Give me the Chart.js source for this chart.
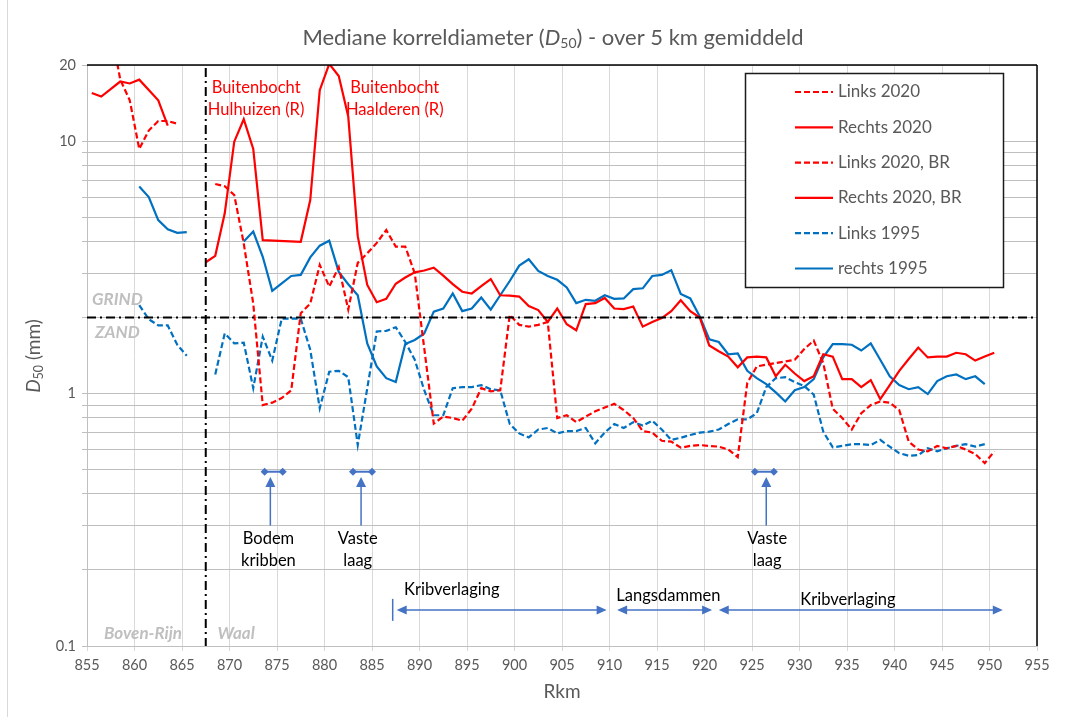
<!DOCTYPE html>
<html>
<head>
<meta charset="utf-8">
<script src="https://cdn.jsdelivr.net/npm/chart.js@4.4.0/dist/chart.umd.min.js"></script>
<style>
  html, body { margin: 0; padding: 0; background: #fff; }
</style>
</head>
<body>
<canvas id="chart" width="1088" height="717"></canvas>
<script>
// Rivierkilometers (Boven-Rijn en Waal)
const kmBovenRijn = [855.5, 856.5, 857.5, 858.5, 859.5, 860.5, 861.5, 862.5, 863.5, 864.5, 865.5];
const kmWaal = [
  867.5, 868.5, 869.5, 870.5, 871.5, 872.5, 873.5, 874.5, 875.5, 876.5,
  877.5, 878.5, 879.5, 880.5, 881.5, 882.5, 883.5, 884.5, 885.5, 886.5,
  887.5, 888.5, 889.5, 890.5, 891.5, 892.5, 893.5, 894.5, 895.5, 896.5,
  897.5, 898.5, 899.5, 900.5, 901.5, 902.5, 903.5, 904.5, 905.5, 906.5,
  907.5, 908.5, 909.5, 910.5, 911.5, 912.5, 913.5, 914.5, 915.5, 916.5,
  917.5, 918.5, 919.5, 920.5, 921.5, 922.5, 923.5, 924.5, 925.5, 926.5,
  927.5, 928.5, 929.5, 930.5, 931.5, 932.5, 933.5, 934.5, 935.5, 936.5,
  937.5, 938.5, 939.5, 940.5, 941.5, 942.5, 943.5, 944.5, 945.5, 946.5,
  947.5, 948.5, 949.5, 950.5
];

// D50 (mm), Boven-Rijn
const links2020BR   = [null, null, 28, 17.5, 14.5, 9.3, 11.0, 12.0, 12.0, 11.7, null];
const rechts2020BR  = [15.5, 15.0, null, 17.2, 16.9, 17.5, null, 14.5, 11.5, null, null];
const links1995BR   = [null, null, null, null, null, 2.24, 1.97, 1.86, 1.86, 1.56, 1.41];
const rechts1995BR  = [null, null, null, null, null, 6.6, 6.0, 4.86, 4.47, 4.33, 4.36];

// D50 (mm), Waal
const links2020 = [
  null, 6.76, 6.62, 6.11, 3.93, 2.27, 0.90, 0.92, 0.96, 1.03,
  2.08, 2.27, 3.23, 2.65, 3.17, 2.15, 3.29, 3.59, 3.95, 4.44,
  3.82, 3.82, 2.99, 1.51, 0.76, 0.81, 0.80, 0.78, 0.87, 1.05,
  1.02, 1.03, 2.05, 1.87, 1.84, 1.87, 1.92, 0.80, 0.82, 0.77,
  0.81, 0.85, 0.88, 0.91, 0.86, 0.80, 0.71, 0.70, 0.65, 0.645,
  0.61, 0.62, 0.625, 0.62, 0.616, 0.60, 0.56, 1.10, 1.28, 1.30,
  1.32, 1.34, 1.36, 1.50, 1.62, 1.32, 0.87, 0.80, 0.72, 0.835,
  0.90, 0.93, 0.92, 0.86, 0.644, 0.60, 0.59, 0.62, 0.607, 0.62,
  0.60, 0.576, 0.53, 0.59
];
const rechts2020 = [
  3.31, 3.51, 5.17, 9.94, 12.2, 9.3, 4.05, null, null, null,
  3.99, 5.84, 15.9, 20.2, 18.1, 12.5, 4.2, 2.69, 2.30, 2.37,
  2.72, 2.88, 3.02, 3.07, 3.15, 2.93, 2.71, 2.53, 2.49, 2.66,
  2.84, 2.45, 2.44, 2.42, 2.22, 2.14, 1.92, 2.17, 1.88, 1.78,
  2.26, 2.28, 2.39, 2.17, 2.16, 2.21, 1.84, 1.92, 1.99, 2.12,
  2.34, 2.12, 2.00, 1.55, 1.47, 1.40, 1.27, 1.39, 1.40, 1.39,
  1.17, 1.30, 1.20, 1.12, 1.17, 1.43, 1.40, 1.14, 1.14, 1.06,
  1.13, 0.95, 1.08, 1.23, 1.37, 1.52, 1.39, 1.40, 1.40, 1.45,
  1.43, 1.35, 1.40, 1.45
];
const links1995 = [
  null, 1.19, 1.73, 1.58, 1.59, 1.05, 1.68, 1.35, 1.98, 1.98,
  1.98, 1.49, 0.874, 1.22, 1.23, 1.16, 0.625, null, 1.76, 1.77,
  1.83, 1.60, 1.36, 1.03, 0.82, 0.82, 1.05, 1.06, 1.06, 1.08,
  1.04, 1.03, 0.757, 0.695, 0.67, 0.72, 0.73, 0.695, 0.71, 0.71,
  0.73, 0.635, 0.70, 0.757, 0.73, 0.77, 0.746, 0.78, 0.72, 0.655,
  0.668, 0.685, 0.70, 0.706, 0.72, 0.757, 0.79, 0.79, 0.835, 1.06,
  1.15, 1.16, 1.11, 1.07, 0.99, 0.706, 0.612, 0.62, 0.63, 0.63,
  0.625, 0.655, 0.616, 0.58, 0.567, 0.57, 0.607, 0.59, 0.607, 0.62,
  0.63, 0.616, 0.63, null
];
const rechts1995 = [
  null, null, null, null, 4.0, 4.38, 3.48, 2.55, 2.73, 2.92,
  2.95, 3.46, 3.85, 4.03, 3.03, 2.71, 2.45, 1.58, 1.28, 1.15,
  1.11, 1.57, 1.63, 1.73, 2.11, 2.17, 2.49, 2.12, 2.17, 2.40,
  2.15, 2.45, 2.79, 3.21, 3.40, 3.06, 2.92, 2.82, 2.63, 2.28,
  2.35, 2.33, 2.45, 2.37, 2.38, 2.59, 2.61, 2.92, 2.95, 3.08,
  2.48, 2.38, 2.02, 1.64, 1.60, 1.43, 1.44, 1.23, 1.15, 1.09,
  1.01, 0.93, 1.03, 1.06, 1.14, 1.39, 1.57, 1.57, 1.56, 1.48,
  1.58, 1.36, 1.17, 1.08, 1.04, 1.06, 0.995, 1.12, 1.17, 1.19,
  1.14, 1.17, 1.09, null
];

// As-ticks
const yTicks = [0.1, 0.2, 0.3, 0.4, 0.5, 0.6, 0.7, 0.8, 0.9, 1, 2, 3, 4, 5, 6, 7, 8, 9, 10, 20];
const yLabels = [0.1, 1, 10, 20];

// Grenzen
const grensGrindZand = 2;        // mm
const grensBovenRijnWaal = 867.5; // km

const font = 'Lato, "Liberation Sans", sans-serif';
const grijs = '#595959';
const rood = '#ff0000';
const blauw = '#0070c0';
const pijlKleur = '#4472c4';

function punten(km, waarden) {
  return km.map((x, i) => ({ x: x, y: waarden[i] })).filter(p => p.y !== null);
}
const breuk = { x: 866.5, y: null };

const datasets = [
  { label: 'Links 2020', data: punten(kmWaal, links2020), borderColor: rood, borderDash: [6, 3] },
  { label: 'Rechts 2020', data: punten(kmWaal, rechts2020), borderColor: rood, borderDash: [] },
  { label: 'Links 2020, BR', data: punten(kmBovenRijn, links2020BR), borderColor: rood, borderDash: [6, 3] },
  { label: 'Rechts 2020, BR', data: punten(kmBovenRijn, rechts2020BR), borderColor: rood, borderDash: [] },
  { label: 'Links 1995', data: [...punten(kmBovenRijn, links1995BR), breuk, ...punten(kmWaal, links1995)], borderColor: blauw, borderDash: [6, 3] },
  { label: 'rechts 1995', data: [...punten(kmBovenRijn, rechts1995BR), breuk, ...punten(kmWaal, rechts1995)], borderColor: blauw, borderDash: [] }
].map(d => Object.assign(d, { borderWidth: 2.2, pointRadius: 0, fill: false, tension: 0, spanGaps: false }));

// Annotaties in km / mm
const annotaties = {
  rood: [
    { regels: ['Buitenbocht', 'Hulhuizen (R)'], km: 872.8, d50: [16.2, 13.3] },
    { regels: ['Buitenbocht', 'Haalderen (R)'], km: 887.4, d50: [16.2, 13.3] }
  ],
  ingrepen: [
    { regels: ['Bodem', 'kribben'], van: 873.7, tot: 875.6, pijl: 874.3, tekstKm: 874.1 },
    { regels: ['Vaste', 'laag'], van: 883.0, tot: 885.0, pijl: 883.85, tekstKm: 883.5 },
    { regels: ['Vaste', 'laag'], van: 925.3, tot: 927.3, pijl: 926.5, tekstKm: 926.6 }
  ],
  trajecten: [
    { tekst: 'Kribverlaging', van: 887.6, tot: 909.7, tekstKm: 893.4, tekstD50: 0.167, streep: true },
    { tekst: 'Langsdammen', van: 910.8, tot: 920.8, tekstKm: 916.2, tekstD50: 0.158 },
    { tekst: 'Kribverlaging', van: 921.5, tot: 951.4, tekstKm: 935.1, tekstD50: 0.152 }
  ],
  trajectD50: 0.139,
  ingreepD50: 0.49,
  pijlPunt: 0.467,
  pijlVoet: 0.30,
  tekstD50: [0.265, 0.217]
};

function lijn(ctx, x1, y1, x2, y2) {
  ctx.beginPath(); ctx.moveTo(x1, y1); ctx.lineTo(x2, y2); ctx.stroke();
}
function pijlkop(ctx, x, y, richting) {
  // richting: 'l', 'r', 'u'
  ctx.beginPath();
  if (richting === 'l') { ctx.moveTo(x, y); ctx.lineTo(x + 10, y - 4.5); ctx.lineTo(x + 10, y + 4.5); }
  if (richting === 'r') { ctx.moveTo(x, y); ctx.lineTo(x - 10, y - 4.5); ctx.lineTo(x - 10, y + 4.5); }
  if (richting === 'u') { ctx.moveTo(x, y); ctx.lineTo(x - 5, y + 10); ctx.lineTo(x + 5, y + 10); }
  ctx.closePath(); ctx.fill();
}
function ruit(ctx, x, y) {
  ctx.beginPath();
  ctx.moveTo(x - 4, y); ctx.lineTo(x, y - 4); ctx.lineTo(x + 4, y); ctx.lineTo(x, y + 4);
  ctx.closePath(); ctx.fill();
}
function rijkeTekst(ctx, delen, cx, cy) {
  let breedte = 0;
  delen.forEach(d => { ctx.font = d.f; d.w = ctx.measureText(d.t).width; breedte += d.w; });
  let x = cx - breedte / 2;
  ctx.textAlign = 'left';
  ctx.textBaseline = 'middle';
  delen.forEach(d => { ctx.font = d.f; ctx.fillText(d.t, x, cy + (d.dy || 0)); x += d.w; });
}

const extra = {
  id: 'extra',
  beforeDraw(chart) {
    const ctx = chart.ctx;
    ctx.save();
    ctx.fillStyle = '#fff';
    ctx.fillRect(0, 0, chart.width, chart.height);
    ctx.strokeStyle = '#d9d9d9';
    ctx.lineWidth = 1;
    lijn(ctx, 7.5, 0, 7.5, chart.height);
    ctx.restore();
  },
  afterDatasetsDraw(chart) {
    const { ctx, chartArea: a, scales: { x, y } } = chart;
    ctx.save();

    // grens grind / zand en Boven-Rijn / Waal
    ctx.strokeStyle = '#000';
    ctx.lineWidth = 2;
    ctx.setLineDash([9, 4, 2, 4]);
    const yG = y.getPixelForValue(grensGrindZand);
    lijn(ctx, a.left, yG, a.right, yG);
    const xG = x.getPixelForValue(grensBovenRijnWaal);
    lijn(ctx, xG, a.top + 3, xG, a.bottom);
    ctx.setLineDash([]);

    // grijze teksten
    ctx.fillStyle = '#bfbfbf';
    ctx.font = 'italic bold 17px ' + font;
    ctx.textAlign = 'center';
    ctx.textBaseline = 'middle';
    ctx.fillText('GRIND', x.getPixelForValue(858.2), y.getPixelForValue(2.35));
    ctx.fillText('ZAND', x.getPixelForValue(858.2), y.getPixelForValue(1.74));
    ctx.fillText('Boven-Rijn', x.getPixelForValue(860.9), y.getPixelForValue(0.1125));
    ctx.fillText('Waal', x.getPixelForValue(870.7), y.getPixelForValue(0.1125));

    // rode teksten
    ctx.fillStyle = rood;
    ctx.font = '16.5px ' + font;
    annotaties.rood.forEach(r => {
      r.regels.forEach((t, i) => ctx.fillText(t, x.getPixelForValue(r.km), y.getPixelForValue(r.d50[i])));
    });

    // ingrepen met pijlen
    ctx.strokeStyle = pijlKleur;
    ctx.fillStyle = pijlKleur;
    annotaties.ingrepen.forEach(g => {
      const yi = y.getPixelForValue(annotaties.ingreepD50);
      const x1 = x.getPixelForValue(g.van), x2 = x.getPixelForValue(g.tot);
      ctx.lineWidth = 2;
      lijn(ctx, x1, yi, x2, yi);
      ruit(ctx, x1, yi); ruit(ctx, x2, yi);
      const xp = x.getPixelForValue(g.pijl);
      const yTop = y.getPixelForValue(annotaties.pijlPunt);
      ctx.lineWidth = 1.5;
      lijn(ctx, xp, y.getPixelForValue(annotaties.pijlVoet), xp, yTop + 6);
      pijlkop(ctx, xp, yTop, 'u');
    });
    ctx.fillStyle = '#000';
    ctx.font = '16.5px ' + font;
    annotaties.ingrepen.forEach(g => {
      g.regels.forEach((t, i) => ctx.fillText(t, x.getPixelForValue(g.tekstKm), y.getPixelForValue(annotaties.tekstD50[i])));
    });

    // trajecten
    const yt = y.getPixelForValue(annotaties.trajectD50);
    annotaties.trajecten.forEach(t => {
      const x1 = x.getPixelForValue(t.van), x2 = x.getPixelForValue(t.tot);
      ctx.strokeStyle = pijlKleur;
      ctx.fillStyle = pijlKleur;
      ctx.lineWidth = 1.5;
      lijn(ctx, x1 + 6, yt, x2 - 6, yt);
      pijlkop(ctx, x1, yt, 'l');
      pijlkop(ctx, x2, yt, 'r');
      if (t.streep) lijn(ctx, x1 - 4, yt - 11, x1 - 4, yt + 11);
      ctx.fillStyle = '#000';
      ctx.fillText(t.tekst, x.getPixelForValue(t.tekstKm), y.getPixelForValue(t.tekstD50));
    });
    ctx.restore();
  },
  afterDraw(chart) {
    const { ctx, chartArea: a } = chart;
    ctx.save();

    // zwarte rand boven en rechts
    ctx.strokeStyle = '#000';
    ctx.lineWidth = 1.5;
    lijn(ctx, a.left, a.top, a.right, a.top);
    lijn(ctx, a.right, a.top, a.right, a.bottom);

    // titel
    ctx.fillStyle = grijs;
    rijkeTekst(ctx, [
      { t: 'Mediane korreldiameter (', f: '22px ' + font },
      { t: 'D', f: 'italic 22px ' + font },
      { t: '50', f: '14px ' + font, dy: 5 },
      { t: ') - over 5 km gemiddeld', f: '22px ' + font }
    ], 553, 38);

    // y-as titel
    ctx.save();
    ctx.translate(34, 356);
    ctx.rotate(-Math.PI / 2);
    rijkeTekst(ctx, [
      { t: 'D', f: 'italic 19px ' + font },
      { t: '50', f: '12.5px ' + font, dy: 5 },
      { t: ' (mm)', f: '19px ' + font }
    ], 0, 0);
    ctx.restore();

    // legenda
    const bx = 745.5, by = 73.5, bw = 258, bh = 214;
    ctx.fillStyle = '#fff';
    ctx.fillRect(bx, by, bw, bh);
    ctx.strokeStyle = '#1a1a1a';
    ctx.lineWidth = 1.5;
    ctx.strokeRect(bx, by, bw, bh);
    ctx.font = '17px ' + font;
    ctx.textAlign = 'left';
    ctx.textBaseline = 'middle';
    chart.data.datasets.forEach((d, i) => {
      const ly = 92 + i * 35.3;
      ctx.strokeStyle = d.borderColor;
      ctx.lineWidth = 2.2;
      ctx.setLineDash(d.borderDash);
      lijn(ctx, 795, ly, 833, ly);
      ctx.setLineDash([]);
      ctx.fillStyle = grijs;
      ctx.fillText(d.label, 838, ly);
    });
    ctx.restore();
  }
};

new Chart(document.getElementById('chart'), {
  type: 'line',
  data: { datasets: datasets },
  options: {
    responsive: false,
    animation: false,
    layout: { padding: { left: 0, right: 51, top: 65, bottom: 0 } },
    plugins: {
      legend: { display: false },
      title: { display: false },
      tooltip: { enabled: false }
    },
    scales: {
      x: {
        type: 'linear',
        min: 855,
        max: 955,
        ticks: { stepSize: 5, autoSkip: false, maxRotation: 0, color: grijs, font: { family: font, size: 14.5 }, padding: 6 },
        grid: { color: '#d9d9d9', tickLength: 5 },
        border: { color: '#bfbfbf' },
        title: { display: true, text: 'Rkm', color: grijs, font: { family: font, size: 19 }, padding: { top: 0, bottom: 14 } },
        afterFit: (s) => { s.height = 71; }
      },
      y: {
        type: 'logarithmic',
        min: 0.1,
        max: 20,
        afterBuildTicks: (s) => { s.ticks = yTicks.map(v => ({ value: v })); },
        ticks: {
          autoSkip: false,
          color: grijs,
          font: { family: font, size: 14.5 },
          padding: 6,
          callback: (v) => yLabels.includes(v) ? String(v) : ''
        },
        grid: { color: '#bfbfbf', tickLength: 5 },
        border: { color: '#bfbfbf' },
        afterFit: (s) => { s.width = 87; }
      }
    }
  },
  plugins: [extra]
});
</script>
</body>
</html>
